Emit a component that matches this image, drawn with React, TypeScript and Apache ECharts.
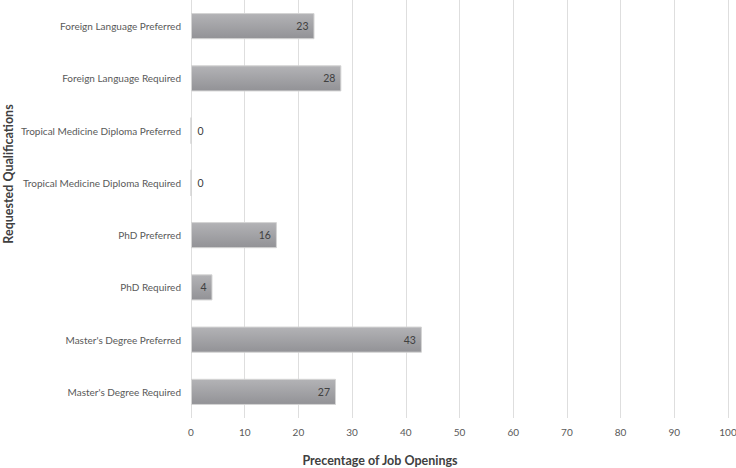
import React, { useEffect, useRef } from "react";
import * as echarts from "echarts";

const categories = [
  "Master's Degree Required",
  "Master's Degree Preferred",
  "PhD Required",
  "PhD Preferred",
  "Tropical Medicine Diploma Required",
  "Tropical Medicine Diploma Preferred",
  "Foreign Language Required",
  "Foreign Language Preferred",
];
const values = [27, 43, 4, 16, 0, 0, 28, 23];
const xTicks = { min: 0, max: 100, interval: 10 };

const FONT = "Lato, 'Open Sans', sans-serif";

export default function App() {
  const ref = useRef<HTMLDivElement>(null);
  useEffect(() => {
    if (!ref.current) return;
    const chart = echarts.init(ref.current, undefined, { renderer: "svg" });
    chart.setOption({
      animation: false,
      textStyle: { fontFamily: FONT },
      grid: {
        left: 191,
        right: 8,
        top: 0,
        height: 418,
        containLabel: false,
        outerBoundsMode: "none",
      },
      xAxis: {
        type: "value",
        min: xTicks.min,
        max: xTicks.max,
        interval: xTicks.interval,
        axisLine: { show: false },
        axisTick: { show: false },
        splitLine: { show: true, lineStyle: { color: "#dedede", width: 1 } },
        axisLabel: { color: "#595959", fontSize: 10, margin: 9, fontFamily: FONT },
        name: "Precentage of Job Openings",
        nameLocation: "middle",
        nameGap: 36,
        nameMoveOverlap: false,
        nameTextStyle: {
          color: "#404040",
          fontSize: 12.5,
          fontWeight: "bold",
          fontFamily: FONT,
          padding: [0, 159, 0, 0],
        },
      },
      yAxis: {
        type: "category",
        data: categories,
        axisLine: { show: false },
        axisTick: { show: false },
        splitLine: { show: false },
        axisLabel: { color: "#595959", fontSize: 10, margin: 10, fontFamily: FONT },
        name: "Requested Qualifications",
        nameLocation: "middle",
        nameRotate: 90,
        nameGap: 176,
        nameMoveOverlap: false,
        nameTextStyle: {
          color: "#404040",
          fontSize: 12.5,
          fontWeight: "bold",
          fontFamily: FONT,
          padding: [0, 0, 0, 70],
        },
      },
      series: [
        {
          type: "bar",
          barCategoryGap: "50%",
          data: values.map((v) =>
            v === 0 ? { value: v, label: { position: "right" } } : v
          ),
          itemStyle: {
            color: new echarts.graphic.LinearGradient(0, 0, 0, 1, [
              { offset: 0, color: "#b3b3b6" },
              { offset: 1, color: "#929296" },
            ]),
            borderColor: "#d4d4d4",
            borderWidth: 1,
          },
          label: {
            show: true,
            position: "insideRight",
            distance: 6,
            color: "#404040",
            fontSize: 10.5,
            fontFamily: FONT,
          },
        },
      ],
    });
    return () => chart.dispose();
  }, []);
  return (
    <div
      ref={ref}
      style={{ position: "absolute", left: 0, top: 0, width: 736, height: 468 }}
    />
  );
}
